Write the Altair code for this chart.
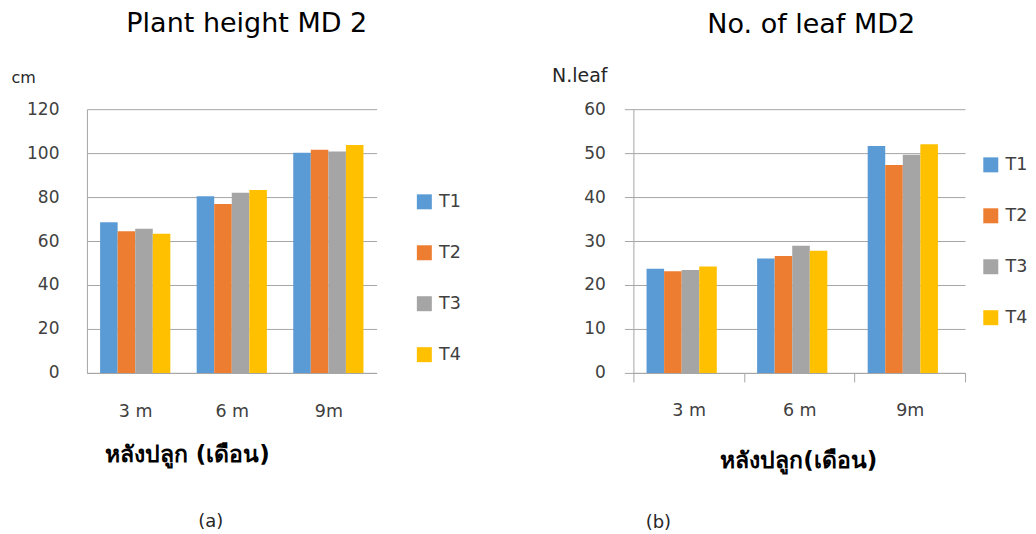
import altair as alt
import pandas as pd

months = ["3 m", "6 m", "9m"]
treatments = ["T1", "T2", "T3", "T4"]
colors = ["#5B9BD5", "#ED7D31", "#A5A5A5", "#FFC000"]

height_T1 = [68.5, 80.4, 100.2]
height_T2 = [64.4, 76.9, 101.5]
height_T3 = [65.6, 82.0, 100.7]
height_T4 = [63.3, 83.2, 103.7]

leaf_T1 = [23.7, 26.0, 51.6]
leaf_T2 = [23.1, 26.6, 47.3]
leaf_T3 = [23.4, 28.9, 49.6]
leaf_T4 = [24.2, 27.8, 52.0]

height_ticks = [0, 20, 40, 60, 80, 100, 120]
leaf_ticks = [0, 10, 20, 30, 40, 50, 60]

FONT = "DejaVu Sans"
GRID = "#A6A6A6"
LABEL = "#404040"


def long_df(series):
    rows = []
    for t, vals in zip(treatments, series):
        for m, v in zip(months, vals):
            rows.append({"month": m, "treatment": t, "value": v})
    return pd.DataFrame(rows)


def panel(df, title, title_dx, title_offset, ytitle, ytitle_x, ytitle_y, ytitle_size,
          ticks, xtitle, xtitle_x, xtitle_y, tag, tag_x, tag_y, width,
          legend_x, legend_y, with_ticks, y_lab_pad, x_lab_pad):
    tick_size = 9 if with_ticks else 1
    bars = alt.Chart(df).mark_bar().encode(
        x=alt.X("month:N", sort=months,
                scale=alt.Scale(paddingInner=0, paddingOuter=0),
                axis=alt.Axis(title=xtitle, labelAngle=0, labelFontSize=17.5,
                              labelColor=LABEL, labelFont=FONT,
                              labelPadding=x_lab_pad,
                              domainColor=GRID, ticks=with_ticks,
                              tickBand="extent", tickSize=tick_size,
                              tickColor=GRID,
                              titleFontSize=23, titleFontWeight="bold",
                              titleColor="#000000", titleFont=FONT,
                              titleAnchor="start", titleAlign="center",
                              titleBaseline="alphabetic",
                              titleX=xtitle_x, titleY=xtitle_y)),
        xOffset=alt.XOffset("treatment:N", sort=treatments,
                            scale=alt.Scale(paddingInner=0, paddingOuter=0.75)),
        y=alt.Y("value:Q",
                scale=alt.Scale(domain=[ticks[0], ticks[-1]], nice=False),
                axis=alt.Axis(values=ticks, title=ytitle, titleAngle=0,
                              titleFontSize=ytitle_size, titleFontWeight="normal",
                              titleColor="#262626", titleFont=FONT,
                              titleAlign="left", titleBaseline="alphabetic",
                              titleAnchor="start",
                              titleX=ytitle_x, titleY=ytitle_y,
                              labelFontSize=17, labelColor=LABEL, labelFont=FONT,
                              labelPadding=y_lab_pad,
                              domainColor=GRID, gridColor=GRID,
                              ticks=with_ticks, tickSize=tick_size,
                              tickColor=GRID)),
        color=alt.Color("treatment:N", sort=treatments,
                        scale=alt.Scale(domain=treatments, range=colors),
                        legend=alt.Legend(title=None, orient="none",
                                          legendX=legend_x, legendY=legend_y,
                                          symbolType="square", symbolSize=225,
                                          symbolStrokeWidth=0,
                                          labelFontSize=17.5, labelColor=LABEL,
                                          labelFont=FONT, labelOffset=6,
                                          rowPadding=32)),
    )
    tag_chart = alt.Chart(pd.DataFrame({"t": [tag]})).mark_text(
        fontSize=18, font=FONT, color="#262626", align="center",
        baseline="alphabetic"
    ).encode(text="t:N", x=alt.value(tag_x), y=alt.value(tag_y))
    return alt.layer(bars, tag_chart).properties(
        width=width, height=264,
        title=alt.TitleParams(title, fontSize=27, font=FONT, fontWeight="normal",
                              color="#000000", anchor="middle", dx=title_dx,
                              frame="group", baseline="alphabetic",
                              offset=title_offset),
    )


left = panel(long_df([height_T1, height_T2, height_T3, height_T4]),
             "Plant height MD 2", 15, 10, "cm", -76, -27, 16, height_ticks,
             "หลังปลูก (เดือน)", 100, 89, "(a)", 124, 418, 290,
             329, 84, False, 28, 30)
right = panel(long_df([leaf_T1, leaf_T2, leaf_T3, leaf_T4]),
              "No. of leaf MD2", 12, 6, "N.leaf", -82, -28, 19, leaf_ticks,
              "หลังปลูก(เดือน)", 165, 95, "(b)", 25, 419, 332,
              349, 47, True, 19, 20)

chart = alt.hconcat(left, right, spacing=257, bounds="flush").resolve_legend(
    color="independent"
).resolve_scale(color="independent").properties(
    padding={"left": 3, "top": 2, "right": 0, "bottom": 0}
).configure_view(stroke=None)

chart.save("out.html", embed_options={"renderer": "svg", "actions": False})
